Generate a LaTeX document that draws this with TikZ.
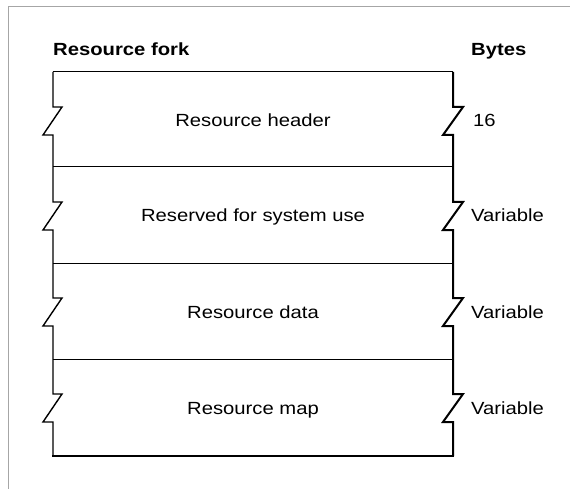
\documentclass[tikz,border=0pt]{standalone}
\usepackage{fontspec}
\setmainfont{Liberation Sans}
\newfontfamily\widesans[FakeStretch=1.15]{Liberation Sans}
\begin{document}
\begin{tikzpicture}[x=1pt,y=-1pt,
  frameline/.style={draw=black!35, line width=1pt},
  thinrule/.style={draw=black, line width=1pt},
  label/.style={font=\widesans\fontsize{17.6}{20}\selectfont, inner sep=0pt, anchor=base},
  head/.style={font=\widesans\fontsize{17.6}{20}\selectfont\bfseries, inner sep=0pt, anchor=base west},
  bytes/.style={font=\widesans\fontsize{17.6}{20}\selectfont, inner sep=0pt, anchor=base west}]
\useasboundingbox (0,0) rectangle (570,489);
% outer page frame
\draw[frameline] (8,489) -- (8,7) -- (570,7);

% column headings
\node[head] (forkhead) at (53,56) {Resource fork};
\node[head] (byteshead) at (471,56) {Bytes};

% horizontal rules
\draw[thinrule] (53,72) -- (453,72);
\foreach \y in {167,263,359} \draw[thinrule] (53,\y) -- (453,\y);
\draw[line width=2.2pt] (52.3,456) -- (454,456);

% left edge with break marks
\draw[line width=1.4pt, line join=miter]
  (53,72) \foreach \t in {72,167,263,359} {
    -- (53,\t+35) -- (62,\t+35) -- (43,\t+63) -- (53,\t+63)
  } -- (53,456);

% right edge with break marks
\draw[line width=2pt, line join=miter]
  (453,72) \foreach \t in {72,167,263,359} {
    -- (453,\t+35) -- (463,\t+35) -- (443,\t+63) -- (453,\t+63)
  } -- (453,456);

% segment names
\node[label] (hdr) at (253,127) {Resource header};
\node[label] (rsv) at (253,222) {Reserved for system use};
\node[label] (dat) at (253,318) {Resource data};
\node[label] (map) at (253,414) {Resource map};

% sizes
\node[bytes] (b1) at (473,127) {16};
\node[bytes] (b2) at (471,222) {Variable};
\node[bytes] (b3) at (471,318) {Variable};
\node[bytes] (b4) at (471,414) {Variable};
\end{tikzpicture}
\end{document}
